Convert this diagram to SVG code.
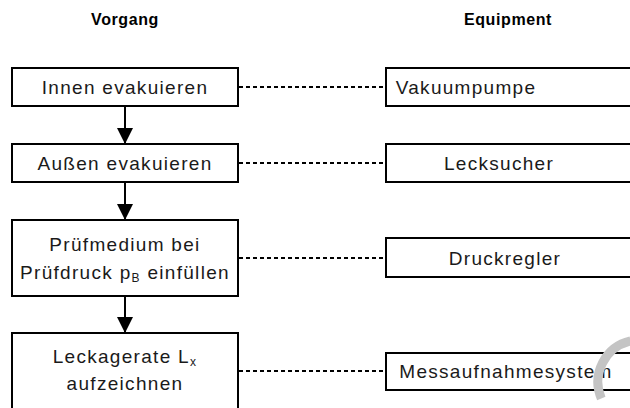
<svg xmlns="http://www.w3.org/2000/svg" width="630" height="408" viewBox="0 0 630 408">
<style>
.box{fill:#fff;stroke:#000;stroke-width:2}
.t{font-family:"Liberation Sans",Arial,sans-serif;font-size:19px;letter-spacing:1.3px;fill:#1a1a1a;text-anchor:middle}
.h{font-family:"Liberation Sans",Arial,sans-serif;font-size:16px;font-weight:bold;letter-spacing:0.6px;fill:#000;text-anchor:middle}
.dash{stroke:#000;stroke-width:2;stroke-dasharray:4 3;fill:none}
.arr{stroke:#000;stroke-width:2;fill:none;marker-end:url(#ah)}
</style>
<defs>
<marker id="ah" viewBox="0 0 10 10" refX="10" refY="5" markerWidth="16" markerHeight="20" markerUnits="userSpaceOnUse" orient="auto">
<path d="M0,0 L10,5 L0,10 Z" fill="#000"/>
</marker>
</defs>
<rect width="630" height="408" fill="#fff"/>
<g id="headers">
<text class="h" x="125" y="25">Vorgang</text>
<text class="h" x="508" y="25">Equipment</text>
</g>
<g id="connectors">
<line class="arr" x1="125" y1="106" x2="125" y2="144"/>
<line class="arr" x1="125" y1="182" x2="125" y2="220"/>
<line class="arr" x1="125" y1="296" x2="125" y2="333"/>
<line class="dash" x1="239" y1="87" x2="386" y2="87"/>
<line class="dash" x1="239" y1="163" x2="386" y2="163"/>
<line class="dash" x1="239" y1="258" x2="386" y2="258"/>
<line class="dash" x1="239" y1="371" x2="386" y2="371"/>
</g>
<g id="innen">
<rect class="box" x="12" y="68" width="226" height="38"/>
<text class="t" x="125" y="94">Innen evakuieren</text>
</g>
<g id="aussen">
<rect class="box" x="12" y="144" width="226" height="38"/>
<text class="t" x="125" y="170">Außen evakuieren</text>
</g>
<g id="pruefmedium">
<rect class="box" x="12" y="220" width="226" height="76"/>
<text class="t" x="125" y="251">Prüfmedium bei</text>
<text class="t" x="125" y="279">Prüfdruck p<tspan font-size="12" dy="3">B</tspan><tspan dy="-3"> einfüllen</tspan></text>
</g>
<g id="leckagerate">
<rect class="box" x="12" y="333" width="226" height="80"/>
<text class="t" x="125" y="363">Leckagerate L<tspan font-size="12" dy="3">x</tspan></text>
<text class="t" x="125" y="390">aufzeichnen</text>
</g>
<g id="vakuumpumpe">
<rect class="box" x="386" y="68" width="260" height="38"/>
<text class="t" x="466" y="94">Vakuumpumpe</text>
</g>
<g id="lecksucher">
<rect class="box" x="386" y="144" width="260" height="38"/>
<text class="t" x="499" y="170">Lecksucher</text>
</g>
<g id="druckregler">
<rect class="box" x="386" y="238" width="260" height="39"/>
<text class="t" x="505" y="265">Druckregler</text>
</g>
<g id="messaufnahmesystem">
<rect class="box" x="386" y="353" width="260" height="37"/>
<text class="t" x="506" y="378">Messaufnahmesystem</text>
</g>
<path d="M630.6,341 A42,42 0 0 0 601.3,398.4" fill="none" stroke="#c4c4c4" stroke-width="9"/>
</svg>
